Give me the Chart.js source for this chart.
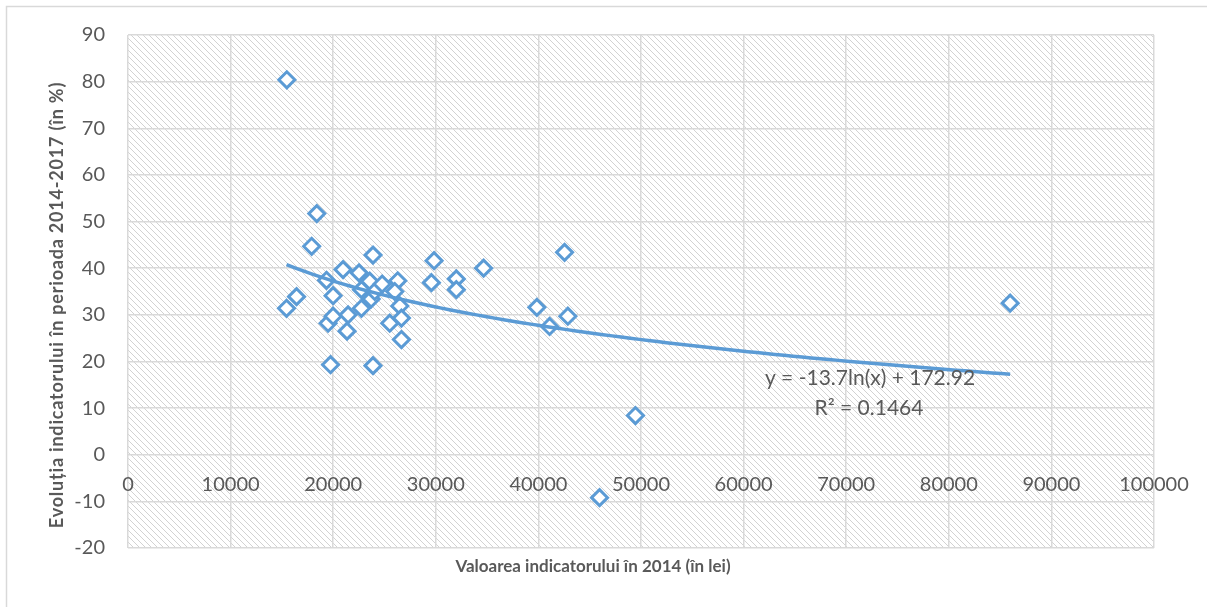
<!DOCTYPE html>
<html>
<head>
<meta charset="utf-8">
<script src="https://cdn.jsdelivr.net/npm/chart.js@4.4.1/dist/chart.umd.min.js"></script>
<style>
  html, body { margin: 0; padding: 0; background: #fff; }
  #wrap { width: 1207px; height: 607px; }
</style>
</head>
<body>
<div id="wrap"><canvas id="c" width="1207" height="607"></canvas></div>
<script>
// values (x = value in 2014, y = evolution %)
const valX = [15480, 18400, 17900, 15450, 16430, 19350, 19500, 19990, 19990, 19740,
              20960, 21450, 21350, 22520, 22750, 22760, 23560, 23880, 23700, 23880,
              24050, 24770, 26290, 26490, 25510, 26650, 26650, 26000, 29830, 29570,
              32000, 32000, 34660, 39850, 41090, 42550, 42870, 49460, 45960, 85980];
const valY = [80.4, 51.7, 44.7, 31.4, 33.9, 37.4, 28.2, 34.1, 29.7, 19.3,
              39.7, 30.0, 26.5, 39.0, 31.4, 35.4, 37.2, 42.8, 33.4, 19.1,
              35.0, 36.6, 37.3, 31.9, 28.2, 29.3, 24.7, 35.0, 41.6, 36.9,
              37.7, 35.4, 40.0, 31.6, 27.5, 43.4, 29.7, 8.4, -9.2, 32.5];

// Excel log trendline as printed on the chart
const trendA = -13.7;
const trendB = 172.92;
const trendLabel = 'y = -13.7ln(x) + 172.92';
const r2Label = 'R² = 0.1464';

const xTitle = 'Valoarea indicatorului în 2014 (în lei)';
const yTitle = 'Evoluția indicatorului în perioada 2014-2017 (în %)';

const FONT = 'Lato, "Open Sans", sans-serif';
const TXT = '#595959';
const BLUE = '#5b9bd5';
const GRID = '#d9d9d9';

const points = valX.map((x, i) => ({ x, y: valY[i] }));

// trend curve sampled between the smallest and largest x
const xMin = Math.min(...valX), xMax = Math.max(...valX);
const trend = [];
for (let k = 0; k <= 80; k++) {
  const x = xMin + (xMax - xMin) * k / 80;
  trend.push({ x, y: trendA * Math.log(x) + trendB });
}

// light "\\\" hatch of the plot area
function hatch() {
  const p = document.createElement('canvas');
  p.width = 6; p.height = 6;
  const g = p.getContext('2d');
  g.fillStyle = '#fff';
  g.fillRect(0, 0, 6, 6);
  g.fillStyle = '#d2d2d2';
  for (let i = 0; i < 6; i++) g.fillRect(i, i, 1, 1);
  return g.createPattern(p, 'repeat');
}

const frame = {
  id: 'frame',
  beforeDraw(chart) {
    const { ctx, chartArea: a } = chart;
    ctx.save();
    ctx.strokeStyle = GRID;
    ctx.lineWidth = 1.5;
    ctx.strokeRect(6.5, 6.5, 1205, 605);
    ctx.fillStyle = hatch();
    ctx.fillRect(a.left, a.top, a.right - a.left, a.bottom - a.top);
    ctx.restore();
  },
  afterDatasetsDraw(chart) {
    const { ctx, chartArea: a } = chart;
    ctx.save();
    ctx.fillStyle = TXT;
    ctx.textAlign = 'center';
    ctx.textBaseline = 'middle';
    ctx.font = '21px ' + FONT;
    ctx.fillText(trendLabel, a.left + 742, a.top + 343);
    ctx.fillText(r2Label, a.left + 741, a.top + 373);

    // axis titles
    ctx.font = 'bold 17px ' + FONT;
    ctx.fillText(xTitle, 593, a.bottom + 19);
    ctx.translate(57, 305);
    ctx.rotate(-Math.PI / 2);
    ctx.font = 'bold 18px ' + FONT;
    ctx.letterSpacing = '0.8px';
    ctx.fillText(yTitle, 0, 0);
    ctx.restore();
  }
};

new Chart(document.getElementById('c'), {
  type: 'scatter',
  data: {
    datasets: [
      {
        label: 'trend',
        type: 'line',
        data: trend,
        borderColor: BLUE,
        borderWidth: 3.5,
        pointRadius: 0,
        fill: false,
        tension: 0,
        order: 0
      },
      {
        label: 'data',
        data: points,
        pointStyle: 'rectRot',
        pointRadius: 8,
        borderWidth: 3,
        borderColor: BLUE,
        backgroundColor: '#fff',
        order: 1
      }
    ]
  },
  options: {
    responsive: false,
    animation: false,
    layout: { padding: { left: 0, top: 35, right: 53, bottom: 59 } },
    plugins: {
      legend: { display: false },
      tooltip: { enabled: false }
    },
    scales: {
      x: {
        type: 'linear',
        position: { y: 0 },
        min: 0, max: 100000,
        ticks: { stepSize: 10000, color: TXT, font: { family: FONT, size: 20 }, padding: 18, maxRotation: 0,
                 callback: v => String(v) },
        grid: { color: GRID, lineWidth: 1.5, drawTicks: false },
        border: { display: false }
      },
      y: {
        min: -20, max: 90,
        afterFit(scale) { scale.width = 128; },
        ticks: { stepSize: 10, color: TXT, font: { family: FONT, size: 20 }, padding: 23 },
        grid: { color: GRID, lineWidth: 1.5, drawTicks: false },
        border: { display: false }
      }
    }
  },
  plugins: [frame]
});
</script>
</body>
</html>
